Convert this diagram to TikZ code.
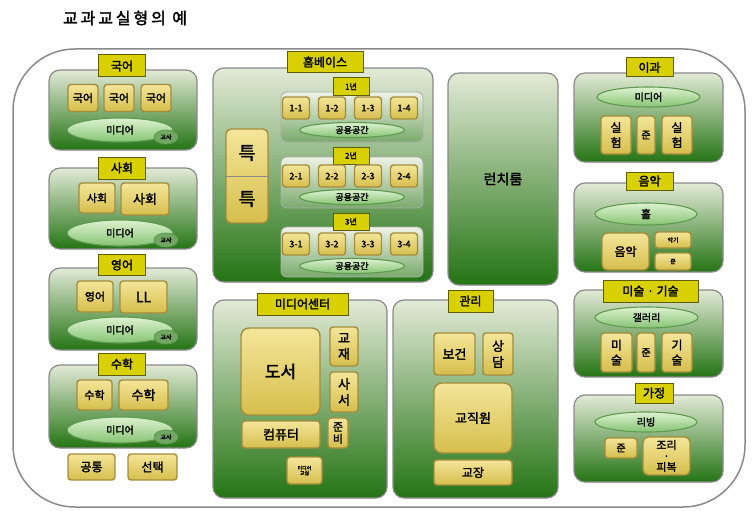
\documentclass[tikz,border=0pt]{standalone}
\usepackage{fontspec}
\setmainfont[AutoFakeBold=2]{Noto Sans CJK KR}
\usetikzlibrary{shapes.geometric}
\definecolor{pnltop}{HTML}{E2EAD6}
\definecolor{pnlbot}{HTML}{247414}
\definecolor{pnlline}{HTML}{8A8A8A}
\definecolor{tabfill}{HTML}{D8D000}
\definecolor{tabline}{HTML}{5E5C08}
\definecolor{btntop}{HTML}{F4E69A}
\definecolor{btnbot}{HTML}{D6BE4C}
\definecolor{btnline}{HTML}{A48C3C}
\definecolor{ovtop}{HTML}{DDF2CF}
\definecolor{ovbot}{HTML}{86C474}
\definecolor{ovline}{HTML}{5E9A50}

\begin{document}
\begin{tikzpicture}[x=1pt,y=-1pt,
  every text node part/.style={align=center},
  sz/.style 2 args={minimum width=#1pt,minimum height=#2pt},
  txt/.style={font=\bfseries\fontsize{#1}{#1}\selectfont},
  frame/.style={draw=pnlline,line width=1.5pt,rounded corners=62pt,inner sep=0pt},
  panel/.style={draw=pnlline,line width=1.2pt,rounded corners=11pt,top color=pnltop,bottom color=pnlbot,inner sep=0pt},
  yearbox/.style={draw=pnlline!70,line width=0.8pt,rounded corners=6pt,top color=pnltop!60!white,bottom color=pnlbot!55!pnltop,inner sep=0pt},
  tab/.style={draw=tabline,line width=1pt,fill=tabfill,inner sep=0pt,txt=12},
  btn/.style={draw=btnline,line width=1.4pt,rounded corners=3pt,top color=btntop,bottom color=btnbot,inner sep=0pt,txt=11},
  oval/.style={ellipse,draw=ovline,line width=1.1pt,top color=ovtop,bottom color=ovbot,inner sep=0pt,txt=10},
  teacher/.style={ellipse,draw=ovline,line width=0.8pt,fill=ovbot!85!black,inner sep=0pt,txt=6,sz={24}{14}}]
\useasboundingbox (0,0) rectangle (755,511);
\node[txt=16] (title) at (125,18) {\addfontfeature{LetterSpace=18}교과교실형의 예};
\node[frame,sz={732}{458}] (campus) at (379,278) {};

\node[panel,sz={148}{80}] (kor) at (123,110) {};
\node[tab,sz={47}{22}] (korT) at (122,66) {국어};
\node[btn,sz={30}{27}] (kor1) at (83,98) {국어};
\node[btn,sz={30}{27}] (kor2) at (119,98) {국어};
\node[btn,sz={30}{27}] (kor3) at (156,98) {국어};
\node[oval,sz={106}{24}] (korM) at (120,130) {미디어};
\node[teacher] (korS) at (166,137) {교사};

\node[panel,sz={148}{81}] (soc) at (123,208.5) {};
\node[tab,sz={47}{22}] (socT) at (122,168) {사회};
\node[btn,sz={36}{30}] (soc1) at (97,198) {사회};
\node[btn,sz={48}{32},txt=13] (soc2) at (145,199) {사회};
\node[oval,sz={106}{26}] (socM) at (120,233) {미디어};
\node[teacher] (socS) at (166,240) {교사};

\node[panel,sz={148}{82}] (eng) at (123,309) {};
\node[tab,sz={47}{21}] (engT) at (122,265) {영어};
\node[btn,sz={36}{31}] (eng1) at (95,296.5) {영어};
\node[btn,sz={47}{32},txt=14] (eng2) at (143.5,297) {LL};
\node[oval,sz={106}{26}] (engM) at (120,330) {미디어};
\node[teacher] (engS) at (166,337) {교사};

\node[panel,sz={148}{83}] (math) at (123,406.5) {};
\node[tab,sz={47}{22}] (mathT) at (122,364) {수학};
\node[btn,sz={35}{30}] (math1) at (94.5,395) {수학};
\node[btn,sz={49}{30},txt=13] (math2) at (143.5,395) {수학};
\node[oval,sz={106}{26}] (mathM) at (120,430) {미디어};
\node[teacher] (mathS) at (166,437) {교사};

\node[btn,sz={47}{26},txt=12] (common) at (91.5,467) {공통};
\node[btn,sz={49}{26},txt=12] (elective) at (152.5,467) {선택};

\node[panel,sz={220}{214}] (home) at (323,175) {};
\node[tab,sz={76}{21}] (homeT) at (325,62) {홈베이스};
\node[btn,sz={42}{94},rounded corners=5pt,txt=18] (spec) at (247,176) {특\\[28pt]특};
\draw[pnlline,line width=0.6pt] (spec.west) -- (spec.east);

\node[yearbox,sz={142}{50}] (yr1) at (352,117) {};
\node[tab,sz={36}{17},txt=8] (yr1T) at (351,86.5) {1년};
\node[btn,sz={27}{22},txt=9] (r11) at (296,108) {1-1};
\node[btn,sz={27}{22},txt=9] (r12) at (332,108) {1-2};
\node[btn,sz={27}{22},txt=9] (r13) at (368,108) {1-3};
\node[btn,sz={27}{22},txt=9] (r14) at (404,108) {1-4};
\node[oval,sz={105}{15},txt=9] (yr1C) at (352,130) {공용공간};

\node[yearbox,sz={142}{51}] (yr2) at (352,182.5) {};
\node[tab,sz={36}{17},txt=8] (yr2T) at (351,155.5) {2년};
\node[btn,sz={27}{22},txt=9] (r21) at (296,176) {2-1};
\node[btn,sz={27}{22},txt=9] (r22) at (332,176) {2-2};
\node[btn,sz={27}{22},txt=9] (r23) at (368,176) {2-3};
\node[btn,sz={27}{22},txt=9] (r24) at (404,176) {2-4};
\node[oval,sz={105}{15},txt=9] (yr2C) at (352,197) {공용공간};

\node[yearbox,sz={142}{50}] (yr3) at (352,252) {};
\node[tab,sz={36}{17},txt=8] (yr3T) at (351,221.5) {3년};
\node[btn,sz={27}{22},txt=9] (r31) at (296,244) {3-1};
\node[btn,sz={27}{22},txt=9] (r32) at (332,244) {3-2};
\node[btn,sz={27}{22},txt=9] (r33) at (368,244) {3-3};
\node[btn,sz={27}{22},txt=9] (r34) at (404,244) {3-4};
\node[oval,sz={105}{15},txt=9] (yr3C) at (352,266) {공용공간};

\node[panel,sz={110}{212},txt=14] (lunch) at (503,179) {런치룸};

\node[panel,sz={174}{198}] (media) at (300,399) {};
\node[tab,sz={91}{22}] (mediaT) at (302.5,304) {미디어센터};
\node[btn,sz={79}{87},rounded corners=8pt,txt=17] (books) at (280.5,371.5) {도서};
\node[btn,sz={28}{39},txt=13] (material) at (344,346.5) {교\\[3pt]재};
\node[btn,sz={28}{40},txt=13] (librarian) at (344,392) {사\\[3pt]서};
\node[btn,sz={78}{27},txt=13] (computer) at (281,434.5) {컴퓨터};
\node[btn,sz={20}{30},txt=11] (mprep) at (338,433) {준\\[1pt]비};
\node[btn,sz={35}{27},txt=5] (mroom) at (304.5,470.5) {미디어\\교실};

\node[panel,sz={165}{198}] (admin) at (475.5,399) {};
\node[tab,sz={45}{22}] (adminT) at (470.5,301) {관리};
\node[btn,sz={41}{42},txt=13] (health) at (454.5,354) {보건};
\node[btn,sz={30}{42},txt=13] (counsel) at (498,354) {상\\[3pt]담};
\node[btn,sz={78}{70},rounded corners=8pt,txt=13] (staff) at (473,418) {교직원};
\node[btn,sz={78}{25},txt=12] (principal) at (473,472.5) {교장};

\node[panel,sz={149}{89}] (sci) at (648.5,117.5) {};
\node[tab,sz={47}{19}] (sciT) at (649.5,67.5) {이과};
\node[oval,sz={103}{20}] (sciM) at (648.5,97) {미디어};
\node[btn,sz={30}{38},txt=12] (lab1) at (616,135) {실\\[3pt]험};
\node[btn,sz={18}{38},txt=10] (sprep) at (646,135) {준};
\node[btn,sz={30}{38},txt=12] (lab2) at (677,135) {실\\[3pt]험};

\node[panel,sz={149}{89}] (music) at (648.5,227.5) {};
\node[tab,sz={47}{18}] (musicT) at (649.5,181) {음악};
\node[oval,sz={102}{22},txt=11] (hall) at (646,214) {홀};
\node[btn,sz={47}{37},rounded corners=5pt,txt=12] (musicR) at (625.5,251.5) {음악};
\node[btn,sz={36}{16},txt=6] (instr) at (673,240) {악기};
\node[btn,sz={36}{17},txt=6] (muprep) at (673,261.5) {준};

\node[panel,sz={149}{87}] (art) at (648.5,333.5) {};
\node[tab,sz={95}{22}] (artT) at (650.5,291) {미술 · 기술};
\node[oval,sz={103}{21}] (gallery) at (646.5,317.5) {갤러리};
\node[btn,sz={31}{39},txt=12] (artR) at (616.5,352.5) {미\\[3pt]술};
\node[btn,sz={18}{39},txt=10] (aprep) at (646,352.5) {준};
\node[btn,sz={30}{39},txt=12] (tech) at (677,352.5) {기\\[3pt]술};

\node[panel,sz={149}{87}] (home2) at (648.5,438.5) {};
\node[tab,sz={38}{20}] (home2T) at (654,393) {가정};
\node[oval,sz={102}{20}] (living) at (646,422) {리빙};
\node[btn,sz={32}{20},txt=10] (hprep) at (621,448) {준};
\node[btn,sz={47}{38},rounded corners=5pt,txt=11] (cook) at (666.5,456) {조리\\·\\피복};
\end{tikzpicture}
\end{document}
